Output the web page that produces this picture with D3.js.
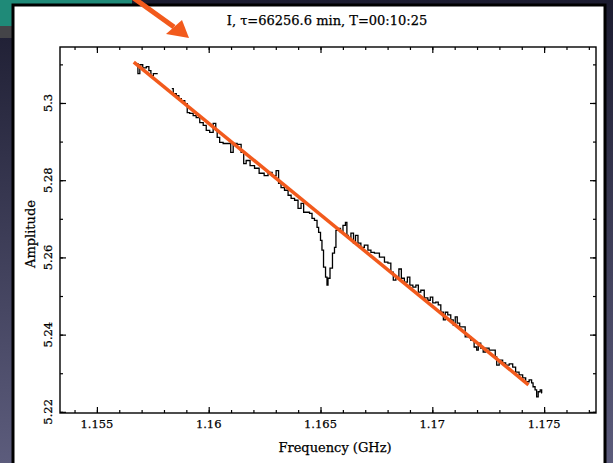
<!DOCTYPE html>
<html>
<head>
<meta charset="utf-8">
<script src="https://cdn.jsdelivr.net/npm/d3@7"></script>
<style>
  html, body { margin: 0; padding: 0; background: #22223a; }
  svg { display: block; }
  text { font-family: "DejaVu Serif", "Liberation Serif", serif; fill: #000; stroke: #000; stroke-width: 0.25; }
</style>
</head>
<body>
<svg id="chart" width="613" height="463"></svg>
<script>
// measured spectrum (null = gap in the trace)
var freq = [
  1.15679, 1.15688, 1.15696, 1.15714, 1.15728, 1.15737, 1.15746, 1.15759, 1.15772, null,
  1.15835, 1.15848, 1.15862, 1.15871, 1.15884, 1.15902, 1.15906, 1.15924, 1.15937, 1.15951,
  1.15969, 1.15982, 1.15996, 1.16013, 1.16027, 1.16036, 1.16040, 1.16058, 1.16071, 1.16094,
  1.16103, 1.16116, 1.16138, 1.16152, 1.16161, 1.16174, 1.16196, 1.16214, 1.16237, 1.16259,
  1.16272, 1.16295, 1.16308, 1.16317, 1.16330, 1.16348, 1.16362, 1.16375, 1.16393, 1.16406,
  1.16420, 1.16429, 1.16442, 1.16460, 1.16464, 1.16482, 1.16487, 1.16496, 1.16504, 1.16509,
  1.16518, 1.16527, 1.16531, 1.16536, 1.16549, 1.16558, 1.16567, 1.16571, 1.16585, 1.16594,
  1.16607, 1.16616, 1.16620, 1.16629, 1.16643, 1.16652, 1.16661, 1.16674, 1.16687, 1.16705,
  1.16719, 1.16732, 1.16750, 1.16777, 1.16795, 1.16808, 1.16821, 1.16830, 1.16844, 1.16857,
  1.16866, 1.16884, 1.16893, 1.16906, 1.16920, 1.16933, 1.16942, 1.16955, 1.16973, 1.16987,
  1.16995, 1.17009, 1.17022, 1.17031, 1.17045, 1.17054, 1.17062, 1.17076, 1.17089, 1.17098,
  1.17107, 1.17116, 1.17129, 1.17165, 1.17178, 1.17196, 1.17201, 1.17210, 1.17223, 1.17232,
  1.17245, 1.17263, 1.17277, 1.17286, 1.17290, 1.17308, 1.17321, 1.17335, 1.17353, 1.17366,
  1.17379, 1.17397, 1.17411, 1.17424, 1.17442, 1.17446, 1.17455, 1.17464, 1.17469, 1.17478,
  1.17487, 1.17491
];
var amplitude = [
  5.3102, 5.3076, 5.3099, 5.3091, 5.3094, 5.3084, 5.3071, 5.3076, 5.3076, null,
  5.3037, 5.3024, 5.3019, 5.3011, 5.3006, 5.2998, 5.2975, 5.2973, 5.2967, 5.2962,
  5.2949, 5.2942, 5.2929, 5.2924, 5.2947, 5.2929, 5.2911, 5.2898, 5.2895, 5.2895,
  5.2872, 5.2895, 5.2893, 5.2872, 5.2843, 5.2851, 5.2838, 5.2831, 5.2818, 5.2812,
  5.2820, 5.2812, 5.2825, 5.2792, 5.2781, 5.2774, 5.2761, 5.2753, 5.2748, 5.2727,
  5.2740, 5.2717, 5.2717, 5.2714, 5.2701, 5.2696, 5.2678, 5.2665, 5.2644, 5.2619,
  5.2575, 5.2549, 5.2528, 5.2546, 5.2572, 5.2611, 5.2626, 5.2670, 5.2675, 5.2665,
  5.2683, 5.2691, 5.2657, 5.2650, 5.2663, 5.2637, 5.2657, 5.2637, 5.2626, 5.2632,
  5.2619, 5.2613, 5.2611, 5.2601, 5.2588, 5.2585, 5.2562, 5.2541, 5.2549, 5.2570,
  5.2546, 5.2536, 5.2549, 5.2528, 5.2523, 5.2528, 5.2510, 5.2515, 5.2495, 5.2489,
  5.2497, 5.2482, 5.2484, 5.2477, 5.2458, 5.2438, 5.2458, 5.2451, 5.2438, 5.2425,
  5.2446, 5.2430, 5.2420, 5.2394, 5.2386, 5.2368, 5.2360, 5.2378, 5.2365, 5.2355,
  5.2365, 5.2360, 5.2360, 5.2342, 5.2321, 5.2334, 5.2327, 5.2321, 5.2324, 5.2316,
  5.2303, 5.2296, 5.2288, 5.2278, 5.2283, 5.2275, 5.2265, 5.2257, 5.2239, 5.2252,
  5.2257, 5.2249
];

// linear fit (orange)
var fitFreq = [1.15665, 1.17430];
var fitAmp = [5.3106, 5.2270];

var xTicks = [1.155, 1.16, 1.165, 1.17, 1.175];
var xTickLabels = ["1.155", "1.16", "1.165", "1.17", "1.175"];
var yTicks = [5.22, 5.24, 5.26, 5.28, 5.30];
var yTickLabels = ["5.22", "5.24", "5.26", "5.28", "5.3"];

var title = "I, \u03c4=66256.6 min, T=00:10:25";

var svg = d3.select("#chart");

// ---- slide background ----
var defs = svg.append("defs");
var bg = defs.append("linearGradient").attr("id", "bg")
  .attr("x1", 0).attr("y1", 0).attr("x2", 0).attr("y2", 1);
bg.append("stop").attr("offset", 0).attr("stop-color", "#1c1c30");
bg.append("stop").attr("offset", 1).attr("stop-color", "#5c5c7c");
svg.append("rect").attr("width", 613).attr("height", 463).attr("fill", "url(#bg)");
svg.append("rect").attr("width", 132).attr("height", 26).attr("fill", "#1f8a78");
svg.append("rect").attr("y", 26).attr("width", 12).attr("height", 12).attr("fill", "#444448");

// white panel
svg.append("rect")
  .attr("x", 13).attr("y", 5).attr("width", 592).attr("height", 462)
  .attr("fill", "#fff").attr("stroke", "#000").attr("stroke-width", 3);

// ---- plot ----
var frame = { left: 60, right: 596, top: 47, bottom: 413 };

var x = d3.scaleLinear().domain([1.15335, 1.17732]).range([frame.left, frame.right]);
var y = d3.scaleLinear().domain([5.2197, 5.3145]).range([frame.bottom, frame.top]);

var xMinor = d3.range(1154, 1178).map(function (d) { return d / 1000; });
var yMinor = d3.range(522, 532).map(function (d) { return d / 100; });

function addAxis(axisFn, scale, ticks, size, tx, ty) {
  var g = svg.append("g")
    .attr("transform", "translate(" + tx + "," + ty + ")")
    .call(axisFn(scale).tickValues(ticks).tickSize(-size).tickFormat(""));
  g.select(".domain").remove();
  g.selectAll("line").attr("stroke", "#000").attr("stroke-width", 1.2);
  return g;
}

addAxis(d3.axisBottom, x, xMinor, 3, 0, frame.bottom);
addAxis(d3.axisBottom, x, xTicks, 6, 0, frame.bottom);
addAxis(d3.axisTop, x, xMinor, 3, 0, frame.top);
addAxis(d3.axisTop, x, xTicks, 6, 0, frame.top);
addAxis(d3.axisLeft, y, yMinor, 3, frame.left, 0);
addAxis(d3.axisLeft, y, yTicks, 6, frame.left, 0);
addAxis(d3.axisRight, y, yMinor, 3, frame.right, 0);
addAxis(d3.axisRight, y, yTicks, 6, frame.right, 0);

svg.append("rect")
  .attr("x", frame.left).attr("y", frame.top)
  .attr("width", frame.right - frame.left).attr("height", frame.bottom - frame.top)
  .attr("fill", "none").attr("stroke", "#000").attr("stroke-width", 1.4);

// tick labels
svg.selectAll("text.xlab").data(xTicks).enter().append("text")
  .attr("class", "xlab")
  .attr("x", function (d) { return x(d); })
  .attr("y", 428)
  .attr("text-anchor", "middle")
  .style("font-size", "11.5px")
  .text(function (d, i) { return xTickLabels[i]; });

svg.selectAll("text.ylab").data(yTicks).enter().append("text")
  .attr("class", "ylab")
  .attr("transform", function (d) { return "translate(52," + y(d) + ") rotate(-90)"; })
  .attr("text-anchor", "middle")
  .style("font-size", "11.5px")
  .text(function (d, i) { return yTickLabels[i]; });

// axis titles
svg.append("text")
  .attr("x", 335).attr("y", 452)
  .attr("text-anchor", "middle")
  .style("font-size", "13px")
  .text("Frequency (GHz)");

svg.append("text")
  .attr("transform", "translate(35,234) rotate(-90)")
  .attr("text-anchor", "middle")
  .style("font-size", "13px")
  .text("Amplitude");

svg.append("text")
  .attr("x", 327).attr("y", 25)
  .attr("text-anchor", "middle")
  .style("font-size", "13px")
  .text(title);

// spectrum trace
var spec = freq.map(function (f, i) { return { f: f, a: amplitude[i] }; });
var trace = d3.line()
  .defined(function (d) { return d.f !== null; })
  .x(function (d) { return x(d.f); })
  .y(function (d) { return y(d.a); })
  .curve(d3.curveStep);

svg.append("path")
  .datum(spec)
  .attr("d", trace)
  .attr("fill", "none")
  .attr("stroke", "#000")
  .attr("stroke-width", 1.3);

// fitted line
svg.append("line")
  .attr("x1", x(fitFreq[0])).attr("y1", y(fitAmp[0]))
  .attr("x2", x(fitFreq[1])).attr("y2", y(fitAmp[1]))
  .attr("stroke", "#f25a1c")
  .attr("stroke-width", 3.5);

// annotation arrow
svg.append("line")
  .attr("x1", 128).attr("y1", -6).attr("x2", 174).attr("y2", 27)
  .attr("stroke", "#f25a1c").attr("stroke-width", 5);
svg.append("path")
  .attr("d", "M189,38 L166,34 L182,20 Z")
  .attr("fill", "#f25a1c");
</script>
</body>
</html>
